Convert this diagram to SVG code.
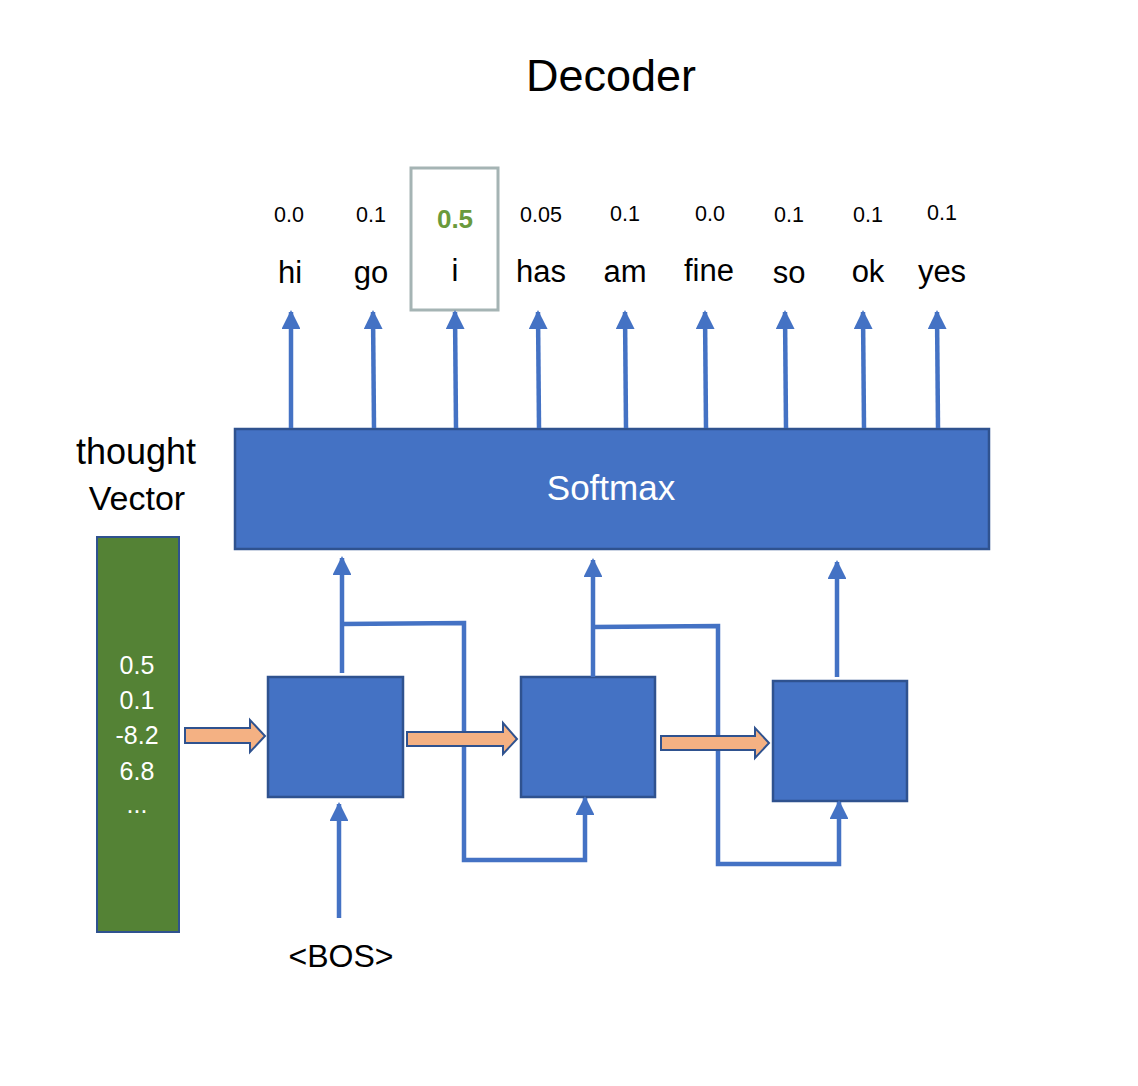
<svg xmlns="http://www.w3.org/2000/svg" width="1138" height="1086" viewBox="0 0 1138 1086">
<style>
text{font-family:"Liberation Sans","DejaVu Sans",sans-serif;fill:#000}
.w{font-size:31px;text-anchor:middle}
.p{font-size:21.5px;text-anchor:middle}
.cell{fill:#4472C4;stroke:#2F528F;stroke-width:2.5}
.ln{fill:none;stroke:#4472C4;stroke-width:4.5}
.ba{fill:#F4B183;stroke:#2F528F;stroke-width:2}
.wt{fill:#fff;text-anchor:middle}
.g{font-size:25px}
</style>
<defs>
<marker id="ah" viewBox="0 0 10 10" refX="9" refY="5" markerWidth="4.2" markerHeight="4.2" markerUnits="strokeWidth" orient="auto">
<path d="M0,0 L10,5 L0,10 Z" fill="#4472C4"/>
</marker>
</defs>
<rect width="1138" height="1086" fill="#fff"/>
<text x="611" y="91" style="font-size:45px;text-anchor:middle">Decoder</text>

<g id="vocab">
<rect x="411" y="168" width="87" height="142" fill="none" stroke="#A5B4B4" stroke-width="3"/>
<text class="p" x="289" y="222">0.0</text>
<text class="p" x="371" y="222">0.1</text>
<text x="455" y="228" style="font-size:26px;font-weight:bold;text-anchor:middle;fill:#6A9A3C">0.5</text>
<text class="p" x="541" y="222">0.05</text>
<text class="p" x="625" y="221">0.1</text>
<text class="p" x="710" y="221">0.0</text>
<text class="p" x="789" y="222">0.1</text>
<text class="p" x="868" y="222">0.1</text>
<text class="p" x="942" y="220">0.1</text>
<text class="w" x="290" y="283">hi</text>
<text class="w" x="371" y="283">go</text>
<text class="w" x="455" y="281">i</text>
<text class="w" x="541" y="282">has</text>
<text class="w" x="625" y="282">am</text>
<text class="w" x="709" y="281">fine</text>
<text class="w" x="789" y="283">so</text>
<text class="w" x="868" y="282">ok</text>
<text class="w" x="942" y="282">yes</text>
</g>

<g id="softmax">
<rect class="cell" x="235" y="429" width="754" height="120"/>
<text class="wt" x="611" y="500" style="font-size:35px">Softmax</text>
</g>

<g id="thought-label">
<text x="136" y="464" style="font-size:36px;text-anchor:middle">thought</text>
<text x="137" y="510" style="font-size:34px;text-anchor:middle">Vector</text>
</g>

<g id="thought-vector">
<rect x="97" y="537" width="82" height="395" fill="#548235" stroke="#2F528F" stroke-width="2"/>
<text class="wt g" x="137" y="674">0.5</text>
<text class="wt g" x="137" y="709">0.1</text>
<text class="wt g" x="137" y="744">-8.2</text>
<text class="wt g" x="137" y="780">6.8</text>
<text class="wt g" x="137" y="813">...</text>
</g>

<g id="cell1"><rect class="cell" x="268" y="677" width="135" height="120"/></g>
<g id="cell2"><rect class="cell" x="521" y="677" width="134" height="120"/></g>
<g id="cell3"><rect class="cell" x="773" y="681" width="134" height="120"/></g>

<g id="bos"><text x="341" y="967" style="font-size:32px;text-anchor:middle">&lt;BOS&gt;</text></g>

<g id="connectors">
<line class="ln" x1="291" y1="428" x2="291" y2="312" marker-end="url(#ah)"/>
<line class="ln" x1="374" y1="428" x2="373" y2="312" marker-end="url(#ah)"/>
<line class="ln" x1="456" y1="428" x2="455" y2="312" marker-end="url(#ah)"/>
<line class="ln" x1="539" y1="428" x2="538" y2="312" marker-end="url(#ah)"/>
<line class="ln" x1="626" y1="428" x2="625" y2="312" marker-end="url(#ah)"/>
<line class="ln" x1="706" y1="428" x2="705" y2="312" marker-end="url(#ah)"/>
<line class="ln" x1="786" y1="428" x2="785" y2="312" marker-end="url(#ah)"/>
<line class="ln" x1="864" y1="428" x2="863" y2="312" marker-end="url(#ah)"/>
<line class="ln" x1="938" y1="428" x2="937" y2="312" marker-end="url(#ah)"/>

<line class="ln" x1="342" y1="673" x2="342" y2="558" marker-end="url(#ah)"/>
<line class="ln" x1="593" y1="677" x2="593" y2="560" marker-end="url(#ah)"/>
<line class="ln" x1="837" y1="677" x2="837" y2="562" marker-end="url(#ah)"/>

<path class="ln" d="M342,624 L464,623 L464,860 L585,860 L585,798" marker-end="url(#ah)"/>
<path class="ln" d="M593,627 L718,626 L718,864 L839,864 L839,802" marker-end="url(#ah)"/>
<line class="ln" x1="339" y1="918" x2="339" y2="804" marker-end="url(#ah)"/>

<path class="ba" d="M185,728 L250,728 L250,720 L265,736 L250,752 L250,743 L185,743 Z"/>
<path class="ba" d="M407,732 L503,732 L503,723 L517,739 L503,754 L503,746 L407,746 Z"/>
<path class="ba" d="M661,736 L755,736 L755,728 L769,743 L755,758 L755,750 L661,750 Z"/>
</g>
</svg>
